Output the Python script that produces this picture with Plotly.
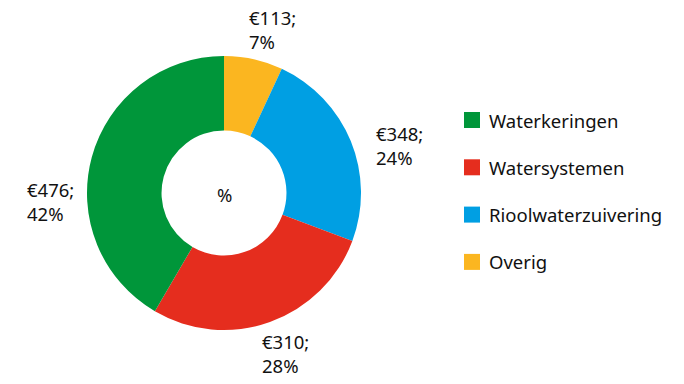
import math
import plotly.graph_objects as go

# Kosten per taak (miljoen euro) en aandeel in procenten
categories = ["Waterkeringen", "Watersystemen", "Rioolwaterzuivering", "Overig"]
amounts = [476, 310, 348, 113]
shares = [42, 28, 24, 7]
colors = ["#00963A", "#E52D1E", "#009FE3", "#FBB620"]

W, H = 684, 384
FONT = "Noto Sans, Open Sans, sans-serif"
TEXT = "#111111"
FS = 18.5

# Donut geometry (pixels)
cx, cy, R = 224, 193, 137
dom_x = [(cx - R) / W, (cx + R) / W]
dom_y = [(H - cy - R) / H, (H - cy + R) / H]

# Clockwise from 12 o'clock: Overig, Rioolwaterzuivering, Watersystemen, Waterkeringen
order = [3, 2, 1, 0]

fig = go.Figure()
fig.add_trace(go.Pie(
    labels=[categories[i] for i in order],
    values=[shares[i] for i in order],
    marker=dict(colors=[colors[i] for i in order], line=dict(width=0)),
    hole=0.456,
    sort=False,
    direction="clockwise",
    rotation=0,
    textinfo="none",
    hoverinfo="label+value",
    showlegend=False,
    domain=dict(x=dom_x, y=dom_y),
))

# Outside labels: placed around the ring from each slice's mid-angle
label_r = {3: 170, 2: 182, 1: 172, 0: 174}
label_shift = {3: 4, 2: 7, 1: -1.5, 0: -18}
total = sum(shares)
cum = 0
for i in order:
    mid = (cum + shares[i] / 2) / total * 360 + label_shift[i]
    cum += shares[i]
    a = math.radians(mid)
    px = cx + label_r[i] * math.sin(a)
    py = cy - label_r[i] * math.cos(a)
    fig.add_annotation(
        x=px / W, y=1 - py / H, xref="paper", yref="paper",
        text=f"€{amounts[i]};<br>{shares[i]}%",
        showarrow=False, align="left", xanchor="center", yanchor="middle",
        font=dict(family=FONT, size=FS, color=TEXT),
    )

# Centre label
fig.add_annotation(
    x=cx / W, y=1 - (cy + 1) / H, xref="paper", yref="paper", text="%",
    showarrow=False, xanchor="center", yanchor="middle",
    font=dict(family=FONT, size=FS, color=TEXT),
)

# Legend: coloured squares with names
leg_x, leg_y0, leg_dy, sq = 464, 120, 47.3, 16
for k, name in enumerate(categories):
    yc = leg_y0 + k * leg_dy
    fig.add_shape(
        type="rect", xref="paper", yref="paper",
        x0=leg_x / W, x1=(leg_x + sq) / W,
        y0=1 - (yc + sq / 2) / H, y1=1 - (yc - sq / 2) / H,
        fillcolor=colors[k], line=dict(width=0),
    )
    fig.add_annotation(
        x=(leg_x + sq + 7) / W, y=1 - yc / H, xref="paper", yref="paper",
        text=name, showarrow=False, xanchor="left", yanchor="middle",
        font=dict(family=FONT, size=FS, color=TEXT),
    )

fig.update_layout(
    width=W, height=H,
    margin=dict(l=0, r=0, t=0, b=0),
    paper_bgcolor="white", plot_bgcolor="white",
    font=dict(family=FONT, color=TEXT),
)

fig.write_html("out.html")
